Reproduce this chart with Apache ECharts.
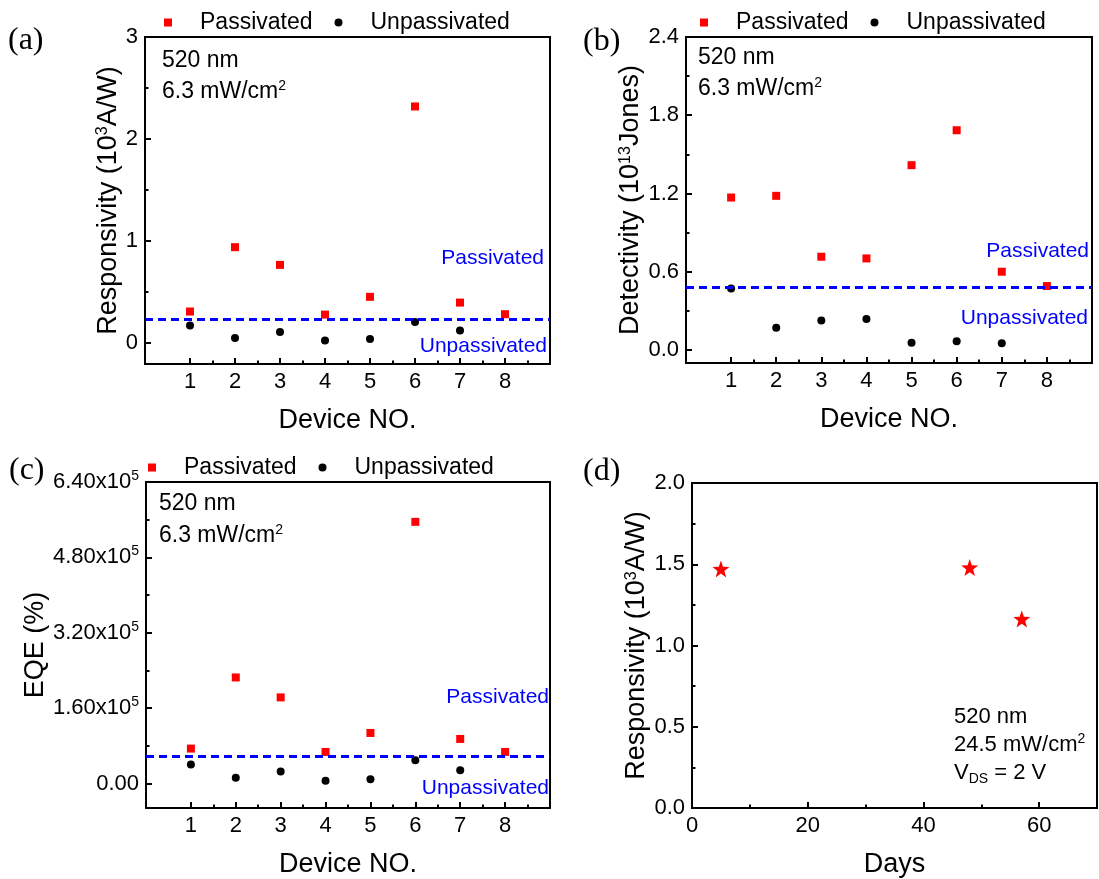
<!DOCTYPE html>
<html>
<head>
<meta charset="utf-8">
<script src="https://cdn.jsdelivr.net/npm/echarts@6/dist/echarts.min.js"></script>
<style>
html,body{margin:0;padding:0;background:#fff;}
#chart{width:1099px;height:879px;}
</style>
</head>
<body>
<div id="chart"></div>
<script>
// ---------------- DATA ----------------
const devices = [1, 2, 3, 4, 5, 6, 7, 8];
const devicesUnpass = [1, 2, 3, 4, 5, 6, 7];
const respPassivated = [0.305, 0.937, 0.763, 0.275, 0.449, 2.318, 0.393, 0.279];
const respUnpassivated = [0.167, 0.046, 0.105, 0.020, 0.036, 0.203, 0.118];
const detPassivated = [1.169, 1.182, 0.715, 0.702, 1.417, 1.685, 0.600, 0.490];
const detUnpassivated = [0.472, 0.171, 0.225, 0.237, 0.056, 0.066, 0.051];
const eqePassivated = [74100, 225100, 182800, 67000, 107300, 555400, 94600, 67000];
const eqeUnpassivated = [40200, 12000, 25400, 5600, 9200, 49400, 28200];
const days = [5, 48, 57];
const respDays = [1.471, 1.480, 1.163];
const thresholds = [0.23, 0.48, 57900];

const deviceTicks = [1, 2, 3, 4, 5, 6, 7, 8];
const deviceMinor = [1.5, 2.5, 3.5, 4.5, 5.5, 6.5, 7.5, 8.5];
const respTicks = [0, 1, 2, 3];
const respMinor = [0.5, 1.5, 2.5];
const detTicks = [0, 0.6, 1.2, 1.8, 2.4];
const detMinor = [0.3, 0.9, 1.5, 2.1];
const eqeTicks = [0, 160000, 320000, 480000, 640000];
const eqeMinor = [80000, 240000, 400000, 560000];
const dayTicks = [0, 20, 40, 60];
const dayMinor = [10, 30, 50];
const respDTicks = [0, 0.5, 1.0, 1.5, 2.0];
const respDMinor = [0.25, 0.75, 1.25, 1.75];

// ---------------- STYLE ----------------
const SANS = '"Liberation Sans", Arial, Helvetica, sans-serif';
const SERIF = '"Liberation Serif", "Times New Roman", serif';
const RED = '#ff0000';
const BLUE = '#0000ff';
const TICKFONT = 22;
const NAMEFONT = 27;

const grids = [
  {left: 145, top: 37, width: 405, height: 327},
  {left: 686, top: 37, width: 406, height: 326},
  {left: 146, top: 482, width: 404, height: 326},
  {left: 692, top: 483, width: 405, height: 326}
];

function primaryAxis(dim, gi, min, max, ticks, fmt, name, nameGap, extraLabel) {
  const ax = {
    gridIndex: gi, type: 'value', min: min, max: max,
    position: dim === 'x' ? 'bottom' : 'left',
    axisLine: {show: true, onZero: false, lineStyle: {color: '#000', width: 2}},
    axisTick: {show: true, inside: true, length: 6, customValues: ticks, lineStyle: {color: '#000', width: 2}},
    axisLabel: Object.assign({show: true, customValues: ticks, formatter: fmt, color: '#000',
      fontFamily: SANS, fontSize: TICKFONT, margin: 7}, extraLabel || {}),
    splitLine: {show: false},
    minorTick: {show: false},
    name: name, nameLocation: 'middle', nameGap: nameGap,
    nameTextStyle: {fontFamily: SANS, fontSize: NAMEFONT, color: '#000',
      rich: {sup: {fontFamily: SANS, fontSize: 16, lineHeight: 14, verticalAlign: 'top', color: '#000'}}}
  };
  if (dim === 'y') ax.nameRotate = 90;
  return ax;
}
function minorAxis(dim, gi, min, max, ticks) {
  return {
    gridIndex: gi, type: 'value', min: min, max: max,
    position: dim === 'x' ? 'bottom' : 'left',
    axisLine: {show: false, onZero: false},
    axisTick: {show: true, inside: true, length: 3.5, customValues: ticks, lineStyle: {color: '#000', width: 2}},
    axisLabel: {show: false},
    splitLine: {show: false}
  };
}

const devFmt = v => String(v);
const xAxes = [], yAxes = [];
// (a)
xAxes.push(primaryAxis('x', 0, 0, 9, deviceTicks, devFmt, 'Device NO.', 43));
xAxes.push(minorAxis('x', 0, 0, 9, deviceMinor));
yAxes.push(primaryAxis('y', 0, -0.21, 3, respTicks, v => String(v), 'Responsivity (10{sup|3}A/W)', 23));
yAxes.push(minorAxis('y', 0, -0.21, 3, respMinor));
// (b)
xAxes.push(primaryAxis('x', 1, 0, 9, deviceTicks, devFmt, 'Device NO.', 43));
xAxes.push(minorAxis('x', 1, 0, 9, deviceMinor));
yAxes.push(primaryAxis('y', 1, -0.1, 2.4, detTicks, v => v.toFixed(1), 'Detectivity (10{sup|13}Jones)', 40));
yAxes.push(minorAxis('y', 1, -0.1, 2.4, detMinor));
// (c)
xAxes.push(primaryAxis('x', 2, 0, 9, deviceTicks, devFmt, 'Device NO.', 43));
xAxes.push(minorAxis('x', 2, 0, 9, deviceMinor));
yAxes.push(primaryAxis('y', 2, -52000, 640000, eqeTicks,
  v => v === 0 ? '{m|0.00}' : '{m|' + (v / 1e5).toFixed(2) + 'x10}{s|5}',
  'EQE (%)', 96,
  {rich: {m: {fontFamily: SANS, fontSize: TICKFONT, lineHeight: 26, color: '#000'},
          s: {fontFamily: SANS, fontSize: 14, lineHeight: 14, verticalAlign: 'top', color: '#000'}}}));
yAxes.push(minorAxis('y', 2, -52000, 640000, eqeMinor));
// (d)
xAxes.push(primaryAxis('x', 3, 0, 70, dayTicks, v => String(v), 'Days', 43));
xAxes.push(minorAxis('x', 3, 0, 70, dayMinor));
yAxes.push(primaryAxis('y', 3, 0, 2, respDTicks, v => v.toFixed(1), 'Responsivity (10{sup|3}A/W)', 40));
yAxes.push(minorAxis('y', 3, 0, 2, respDMinor));

function zip(xs, ys) { return ys.map((y, k) => [xs[k], y]); }

const threshLine = t => ({
  silent: true, symbol: ['none', 'none'], label: {show: false},
  lineStyle: {color: BLUE, width: 3, type: [8, 5], opacity: 1},
  emphasis: {disabled: true},
  data: [{yAxis: t}]
});

const series = [];
const panels = [
  [respPassivated, respUnpassivated, thresholds[0]],
  [detPassivated, detUnpassivated, thresholds[1]],
  [eqePassivated, eqeUnpassivated, thresholds[2]]
];
panels.forEach((p, i) => {
  series.push({
    name: 'Passivated', type: 'scatter', xAxisIndex: 2 * i, yAxisIndex: 2 * i,
    symbol: 'rect', symbolSize: 8, itemStyle: {color: RED, opacity: 1},
    data: zip(devices, p[0]), markLine: threshLine(p[2]), z: 3
  });
  series.push({
    name: 'Unpassivated', type: 'scatter', xAxisIndex: 2 * i, yAxisIndex: 2 * i,
    symbol: 'circle', symbolSize: 8, itemStyle: {color: '#000', opacity: 1},
    data: zip(devicesUnpass, p[1]), z: 2
  });
});
series.push({
  name: 'Stability', type: 'scatter', xAxisIndex: 6, yAxisIndex: 6,
  symbol: 'path://M0,-10 L2.35,-3.24 L9.51,-3.09 L3.8,1.24 L5.88,8.09 L0,4 L-5.88,8.09 L-3.8,1.24 L-9.51,-3.09 L-2.35,-3.24 Z',
  symbolSize: 17, itemStyle: {color: RED, opacity: 1},
  data: zip(days, respDays)
});

const legendBase = (left, top) => ({
  left: left, top: top, orient: 'horizontal', selectedMode: false, padding: 0,
  itemWidth: 8, itemHeight: 8, itemGap: 22,
  textStyle: {fontFamily: SANS, fontSize: 23, color: '#000', padding: [0, 0, 0, 23]},
  data: [{name: 'Passivated', icon: 'rect'}, {name: 'Unpassivated', icon: 'circle'}]
});

function txt(x, y, text, opts) {
  opts = opts || {};
  return {
    type: 'text', x: x, y: y, silent: true,
    style: {
      text: text, fill: opts.fill || '#000',
      fontFamily: opts.family || SANS, fontSize: opts.size || 23,
      align: opts.align || 'left', verticalAlign: 'middle',
      rich: {
        b: {fontFamily: SANS, fontSize: opts.size || 23, lineHeight: 26, fill: '#000'},
        sup: {fontFamily: SANS, fontSize: 14, lineHeight: 14, verticalAlign: 'top', fill: '#000'},
        sub: {fontFamily: SANS, fontSize: 14, lineHeight: 14, verticalAlign: 'bottom', fill: '#000'}
      }
    }
  };
}

const graphics = [
  txt(8, 41, '(a)', {family: SERIF, size: 32}),
  txt(583, 42, '(b)', {family: SERIF, size: 32}),
  txt(9, 471, '(c)', {family: SERIF, size: 32}),
  txt(583, 472, '(d)', {family: SERIF, size: 32}),
  txt(162, 61, '520 nm'),
  txt(162, 92, '{b|6.3 mW/cm}{sup|2}'),
  txt(698, 58, '520 nm'),
  txt(698, 89, '{b|6.3 mW/cm}{sup|2}'),
  txt(159, 504, '520 nm'),
  txt(159, 536, '{b|6.3 mW/cm}{sup|2}'),
  txt(954, 717, '520 nm', {size: 22}),
  txt(954, 745, '{b|24.5 mW/cm}{sup|2}', {size: 22}),
  txt(954, 773, '{b|V}{sub|DS}{b| = 2 V}', {size: 22}),
  txt(544, 258, 'Passivated', {fill: BLUE, size: 21, align: 'right'}),
  txt(547, 346, 'Unpassivated', {fill: BLUE, size: 21, align: 'right'}),
  txt(1089, 251, 'Passivated', {fill: BLUE, size: 21, align: 'right'}),
  txt(1088, 318, 'Unpassivated', {fill: BLUE, size: 21, align: 'right'}),
  txt(549, 697, 'Passivated', {fill: BLUE, size: 21, align: 'right'}),
  txt(549, 788, 'Unpassivated', {fill: BLUE, size: 21, align: 'right'})
];

const chart = echarts.init(document.getElementById('chart'), null, {renderer: 'canvas'});
chart.setOption({
  animation: false,
  backgroundColor: '#fff',
  grid: grids.map(g => Object.assign({show: true, borderColor: '#000', borderWidth: 2,
    backgroundColor: 'transparent', containLabel: false}, g)),
  legend: [legendBase(164, 11), legendBase(700, 11), legendBase(148, 456)],
  xAxis: xAxes,
  yAxis: yAxes,
  series: series,
  graphic: {elements: graphics}
});
</script>
</body>
</html>
